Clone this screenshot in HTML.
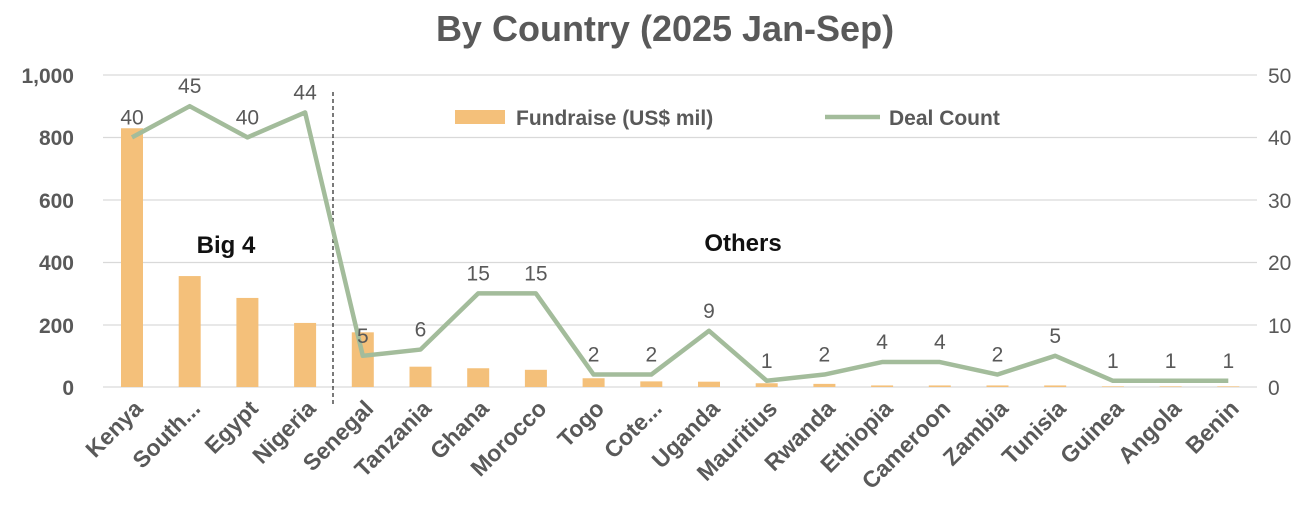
<!DOCTYPE html>
<html><head><meta charset="utf-8"><style>
html,body{margin:0;padding:0;background:#fff;}
svg{display:block;font-family:"Liberation Sans",sans-serif;}
</style></head><body>
<svg width="1312" height="509" viewBox="0 0 1312 509">
<text x="665" y="41" text-anchor="middle" font-size="36" font-weight="bold" fill="#595959">By Country (2025 Jan-Sep)</text>
<g stroke="#d9d9d9" stroke-width="1.3">
<line x1="103" x2="1257" y1="75" y2="75"/><line x1="103" x2="1257" y1="137.5" y2="137.5"/>
<line x1="103" x2="1257" y1="200" y2="200"/><line x1="103" x2="1257" y1="262.5" y2="262.5"/>
<line x1="103" x2="1257" y1="325" y2="325"/><line x1="103" x2="1257" y1="387" y2="387"/>
</g>
<g font-size="21" font-weight="bold" fill="#595959" text-anchor="end">
<text x="74" y="83">1,000</text><text x="74" y="145">800</text><text x="74" y="208">600</text>
<text x="74" y="270">400</text><text x="74" y="333">200</text><text x="74" y="395">0</text>
</g>
<g font-size="21" fill="#595959" text-anchor="start">
<text x="1268" y="83">50</text><text x="1268" y="145">40</text><text x="1268" y="208">30</text>
<text x="1268" y="270">20</text><text x="1268" y="333">10</text><text x="1268" y="395">0</text>
</g>
<g fill="#f4c07a" id="bars"></g>
<line x1="333" x2="333" y1="92" y2="405" stroke="#222" stroke-width="1.2" stroke-dasharray="4,3"/>
<polyline id="ln" fill="none" stroke="#a3bc9b" stroke-width="4.5" stroke-linejoin="round"/>
<g id="vl" font-size="21" fill="#595959" text-anchor="middle"></g>
<g id="xl" font-size="23" font-weight="bold" fill="#595959" text-anchor="end"></g>
<rect x="455" y="110" width="50" height="14" fill="#f4c07a"/>
<text x="516" y="125" font-size="21" font-weight="bold" fill="#595959">Fundraise (US$ mil)</text>
<line x1="825" x2="880" y1="117" y2="117" stroke="#a3bc9b" stroke-width="4.5"/>
<text x="889" y="125" font-size="21" font-weight="bold" fill="#595959">Deal Count</text>
<text x="226" y="253" font-size="24" font-weight="bold" fill="#111" text-anchor="middle">Big 4</text>
<text x="743" y="251" font-size="24" font-weight="bold" fill="#111" text-anchor="middle">Others</text>
</svg>
<script>
var n=["Kenya","South...","Egypt","Nigeria","Senegal","Tanzania","Ghana","Morocco","Togo","Cote...","Uganda","Mauritius","Rwanda","Ethiopia","Cameroon","Zambia","Tunisia","Guinea","Angola","Benin"];
var f=[828,355,285,205,175,65,60,55,28,18,17,12,10,5,5,5,5,2,2,2];
var d=[40,45,40,44,5,6,15,15,2,2,9,1,2,4,4,2,5,1,1,1];
var ns="http://www.w3.org/2000/svg",b=document.getElementById("bars"),vl=document.getElementById("vl"),xl=document.getElementById("xl"),pts=[];
for(var i=0;i<20;i++){var x=132+i*57.7;
var r=document.createElementNS(ns,"rect");var h=f[i]*0.3125;r.setAttribute("x",x-11);r.setAttribute("y",387-h);r.setAttribute("width",22);r.setAttribute("height",h);b.appendChild(r);
var y=387-d[i]*6.24;pts.push(x+","+y);
var t=document.createElementNS(ns,"text");t.setAttribute("x",x);t.setAttribute("y",y-13);t.textContent=d[i];vl.appendChild(t);
var l=document.createElementNS(ns,"text");l.setAttribute("transform","translate("+(x+12)+",410) rotate(-45)");l.textContent=n[i];xl.appendChild(l);}
document.getElementById("ln").setAttribute("points",pts.join(" "));
</script>
</body></html>
